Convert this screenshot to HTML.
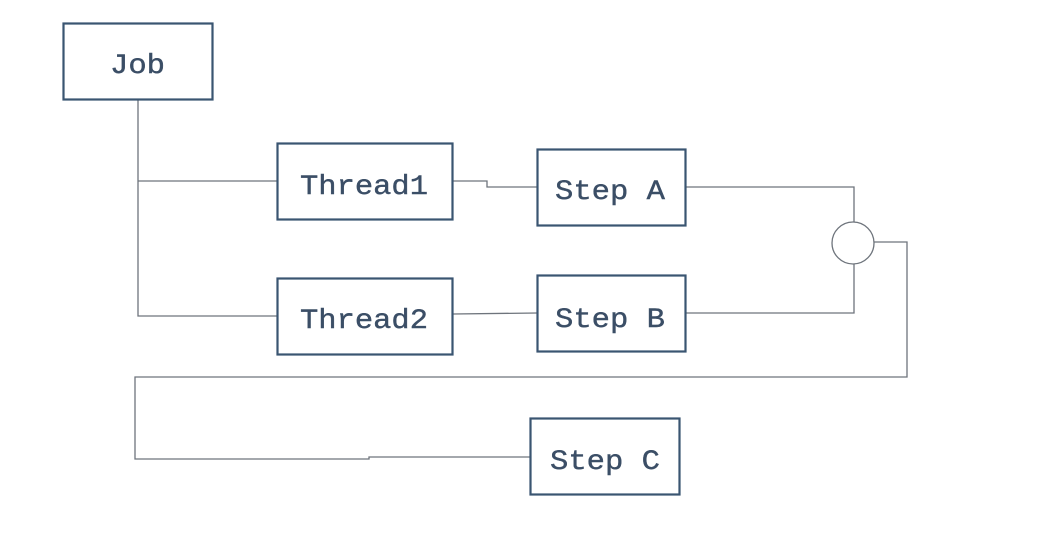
<!DOCTYPE html>
<html><head><meta charset="utf-8"><style>
html,body{margin:0;padding:0;background:#fff;}
svg{display:block;}
text{font-family:"Liberation Mono",monospace;font-size:28px;fill:#3b4e66;stroke:#3b4e66;stroke-width:0.4;}
</style></head><body>
<svg width="1046" height="540" viewBox="0 0 1046 540" xmlns="http://www.w3.org/2000/svg">
<g fill="none" stroke="#6e747c" stroke-width="1.3">
<polyline points="138,99 138,316 277,316"/>
<line x1="138" y1="181" x2="277" y2="181"/>
<polyline points="453,181 487,181 487,187 537,187"/>
<line x1="453" y1="314" x2="537" y2="313"/>
<polyline points="686,187 854,187 854,222"/>
<polyline points="686,313 854,313 854,264"/>
<polyline points="874,242 907,242 907,377 135,377 135,459 369,459 369,457 530,457"/>
<circle cx="853" cy="243" r="21"/>
</g>
<g fill="#fff" stroke="#3a5571" stroke-width="2.2">
<rect x="63.5" y="23.5" width="149" height="76"/>
<rect x="277.5" y="143.5" width="175" height="76"/>
<rect x="277.5" y="278.5" width="175" height="76"/>
<rect x="537.5" y="149.5" width="148" height="76"/>
<rect x="537.5" y="275.5" width="148" height="76"/>
<rect x="530.5" y="418.5" width="149" height="76"/>
</g>
<g>
<text x="110" y="73" textLength="55" lengthAdjust="spacingAndGlyphs">Job</text>
<text x="300" y="194" textLength="128" lengthAdjust="spacingAndGlyphs">Thread1</text>
<text x="300" y="328" textLength="128" lengthAdjust="spacingAndGlyphs">Thread2</text>
<text x="555" y="199" textLength="110" lengthAdjust="spacingAndGlyphs">Step A</text>
<text x="555" y="327" textLength="110" lengthAdjust="spacingAndGlyphs">Step B</text>
<text x="550" y="469" textLength="110" lengthAdjust="spacingAndGlyphs">Step C</text>
</g>
</svg>
</body></html>
